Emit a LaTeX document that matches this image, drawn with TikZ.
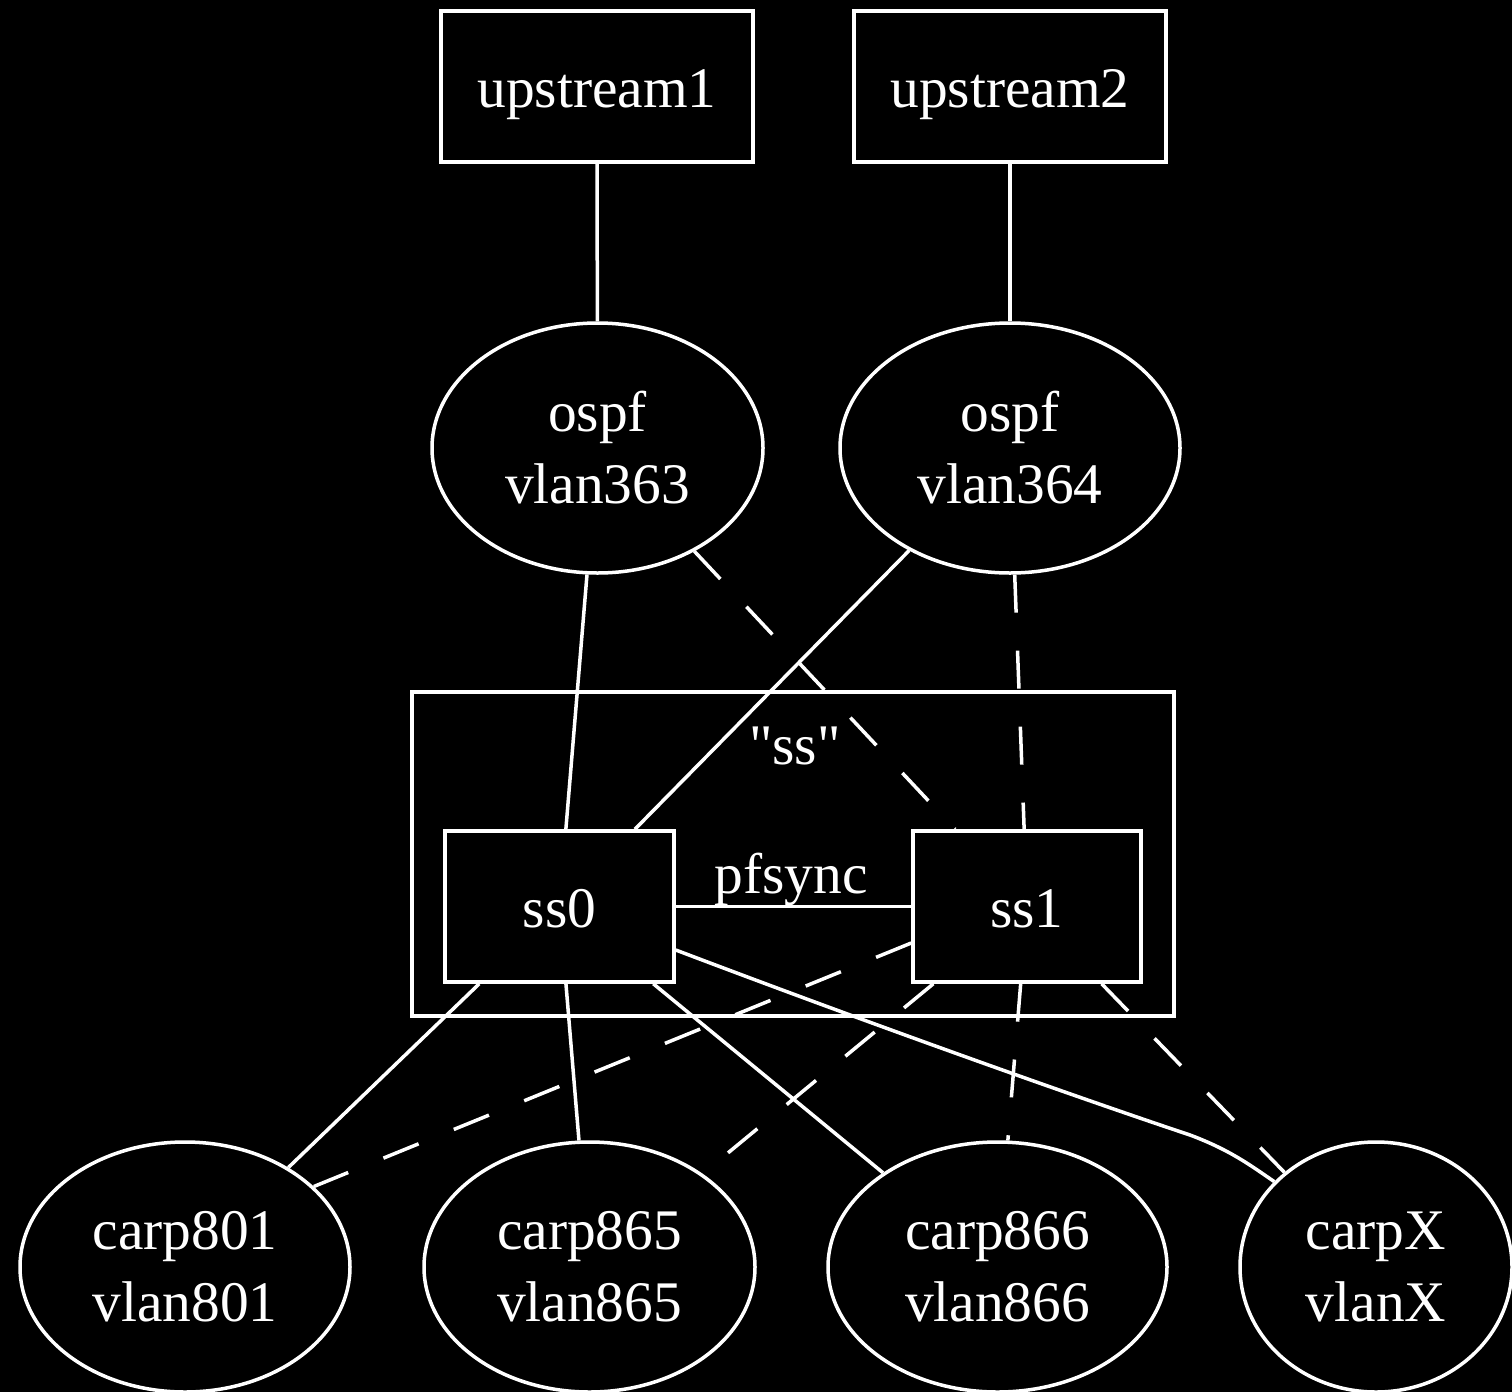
\documentclass[tikz,border=0pt]{standalone}
\usepackage{fontspec}
\setmainfont{Liberation Serif}
\newfontfamily\plainserif{Liberation Serif}
\usetikzlibrary{shapes.geometric,calc}
\begin{document}
\begin{tikzpicture}[x=1pt,y=-1pt,
  every node/.style={text=white,font=\fontsize{57.4}{72}\selectfont,align=center},
  ln/.style={draw=white,line width=3.5pt},
  dsh/.style={ln,dash pattern=on 38pt off 38pt},
  boxn/.style={draw=white,line width=3.5pt,rectangle,inner sep=0pt,minimum height=151pt,
    text height=50pt,text depth=9pt},
  ell/.style={draw=white,line width=3.5pt,ellipse,inner sep=0pt,minimum height=250pt,
    execute at begin node={\rule{0pt}{46pt}}}]
\fill[black] (0,0) rectangle (1512,1392);
\useasboundingbox (0,0) rectangle (1512,1392);
% cluster
\draw[white,line width=3.5pt] (412,692) rectangle (1174,1016);
\node (sslbl) at (795,746) {\plainserif "ss"};
% nodes
\node[boxn,minimum width=312pt] (up1) at (597,86.5) {upstream1};
\node[boxn,minimum width=312pt] (up2) at (1010,86.5) {upstream2};
\node[ell,minimum width=331pt] (o363) at (597.5,448) {ospf\\vlan363};
\node[ell,minimum width=340pt] (o364) at (1010,448) {ospf\\vlan364};
\node[boxn,minimum width=229pt] (ss0) at (559.5,906.5) {ss0};
\node[boxn,minimum width=228pt] (ss1) at (1027,906.5) {ss1};
\node[ell,minimum width=330pt] (c801) at (185,1267) {carp801\\vlan801};
\node[ell,minimum width=331pt] (c865) at (589.5,1267) {carp865\\vlan865};
\node[ell,minimum width=339pt] (c866) at (997.5,1267) {carp866\\vlan866};
\node[ell,minimum width=272pt] (cX) at (1376,1267) {carpX\\vlanX};
% edges
\draw[ln] (up1) -- (o363);
\draw[ln] (up2) -- (o364);
\draw[ln] (o363) -- (ss0);
\draw[dsh] (o363) -- (ss1);
\draw[ln] (o364) -- (ss0);
\draw[dsh] (o364) -- (ss1);
\draw[ln] (ss0) -- node[above=-1pt,inner sep=0pt,pos=0.49] (pf) {pfsync} (ss1);
\draw[ln] (ss0) -- (c801);
\draw[ln] (ss0) -- (c865);
\draw[ln] (ss0) -- (c866);
\draw[ln] ($(ss0.east)+(0,43.5)$) .. controls (900,1035) and (1100,1105) .. (1190,1135)
   .. controls (1230,1150) and (1250,1165) .. (cX.140);
\draw[dsh] ($(ss1.west)+(0,36.5)$) -- (c801.32);
\draw[dsh] (ss1) -- (c865);
\draw[dsh] (ss1) -- (c866);
\draw[dsh] (ss1) -- (cX);
\end{tikzpicture}
\end{document}
